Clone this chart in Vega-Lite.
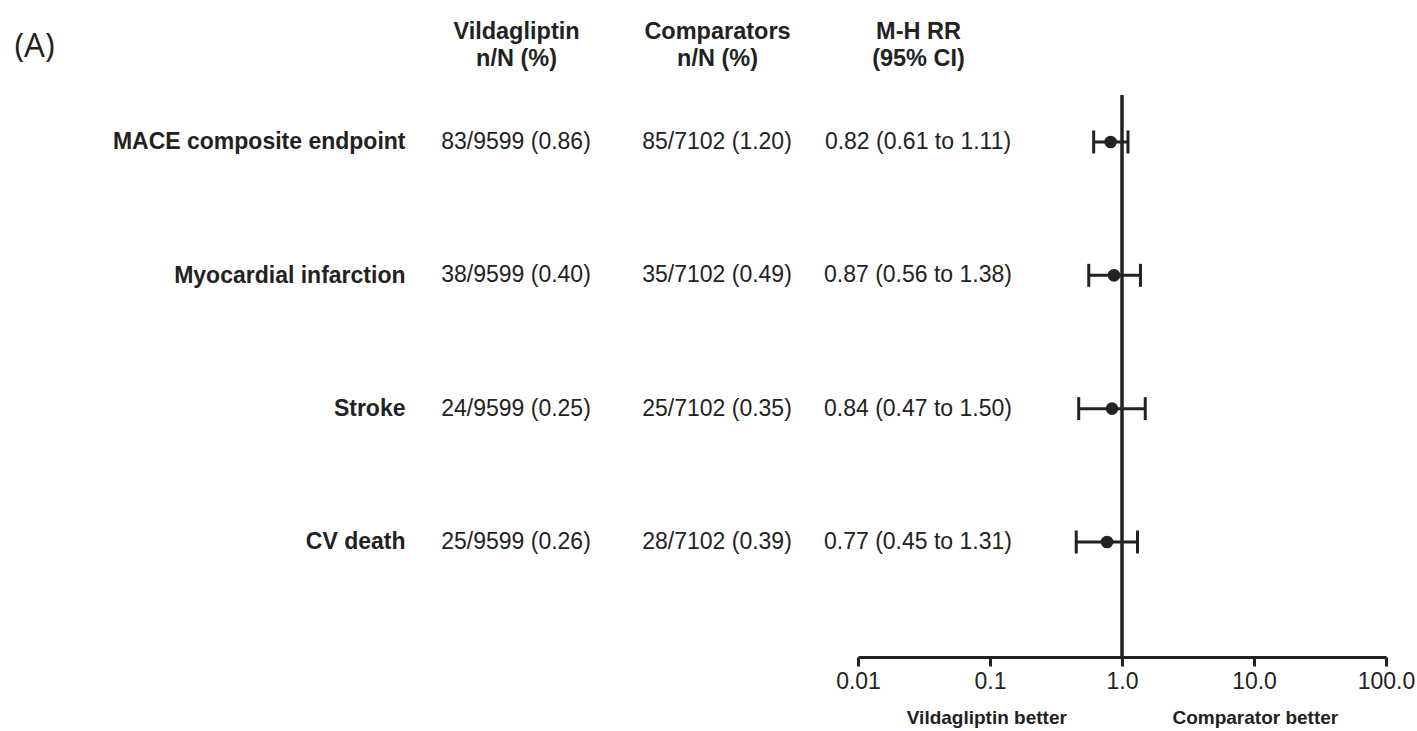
{
  "$schema": "https://vega.github.io/schema/vega-lite/v6.json",
  "width": 997,
  "height": 562,
  "autosize": {"type": "none"},
  "padding": {"left": 420, "top": 95, "right": 0, "bottom": 74},
  "background": "white",
  "title": {"text": "(A)", "anchor": "start", "frame": "bounds", "font": "Open Sans", "fontSize": 33, "fontWeight": "normal", "color": "#222222", "dx": -98, "dy": 49},
  "config": {"view": {"stroke": null}, "font": "Liberation Sans"},
  "data": {"values": [
    {"endpoint": "MACE composite endpoint", "vild": "83/9599 (0.86)", "comp": "85/7102 (1.20)", "rr": "0.82 (0.61 to 1.11)", "est": 0.82, "lo": 0.61, "hi": 1.11},
    {"endpoint": "Myocardial infarction", "vild": "38/9599 (0.40)", "comp": "35/7102 (0.49)", "rr": "0.87 (0.56 to 1.38)", "est": 0.87, "lo": 0.56, "hi": 1.38},
    {"endpoint": "Stroke", "vild": "24/9599 (0.25)", "comp": "25/7102 (0.35)", "rr": "0.84 (0.47 to 1.50)", "est": 0.84, "lo": 0.47, "hi": 1.50},
    {"endpoint": "CV death", "vild": "25/9599 (0.26)", "comp": "28/7102 (0.39)", "rr": "0.77 (0.45 to 1.31)", "est": 0.77, "lo": 0.45, "hi": 1.31}
  ]},
  "resolve": {"scale": {"x": "independent"}, "axis": {"x": "independent"}},
  "layer": [
    {
      "transform": [{"fold": ["vild", "comp", "rr"], "as": ["column", "cell"]}],
      "mark": {"type": "text", "fontSize": 23, "color": "#222222"},
      "encoding": {
        "x": {"field": "column", "type": "nominal",
          "scale": {"type": "point", "domain": ["vild", "comp", "rr"], "range": [96, 498], "padding": 0},
          "axis": {"orient": "top", "title": null, "domain": false, "ticks": false, "tickSize": 0, "grid": false,
            "labelAngle": 0, "labelFontSize": 23.5, "labelFontWeight": "bold", "labelColor": "#222222", "labelPadding": 52, "labelLineHeight": 27,
            "labelExpr": "datum.value == 'vild' ? ['Vildagliptin', 'n/N (%)'] : datum.value == 'comp' ? ['Comparators', 'n/N (%)'] : ['M-H RR', '(95% CI)']"}},
        "y": {"field": "endpoint", "type": "nominal", "sort": null,
          "scale": {"type": "point", "padding": 0.6075, "align": 0.29},
          "axis": {"title": null, "domain": false, "ticks": false, "tickSize": 0, "grid": false, "labelLimit": 0, "labelFontSize": 23, "labelFontWeight": "bold", "labelColor": "#222222", "labelPadding": 15}},
        "text": {"field": "cell", "type": "nominal"}
      }
    },
    {
      "layer": [
        {
          "data": {"values": [{"ref": 1}]},
          "mark": {"type": "rule", "strokeWidth": 3.5, "color": "#222222"},
          "encoding": {
            "x": {"field": "ref", "type": "quantitative",
              "scale": {"type": "log", "domain": [0.01, 100], "range": [438, 966]},
              "axis": {"orient": "bottom", "values": [0.01, 0.1, 1, 10, 100], "grid": false, "labelFlush": false, "labelOverlap": false,
                "labelExpr": "datum.value < 0.05 ? '0.01' : datum.value < 0.5 ? '0.1' : format(datum.value, '.1f')",
                "domainColor": "#222222", "domainWidth": 3, "tickColor": "#222222", "tickWidth": 3, "tickSize": 9,
                "labelFontSize": 23, "labelColor": "#222222", "labelPadding": 4,
                "title": "Vildagliptin better\u00a0\u00a0\u00a0\u00a0\u00a0\u00a0\u00a0\u00a0\u00a0\u00a0\u00a0\u00a0\u00a0\u00a0\u00a0\u00a0\u00a0\u00a0\u00a0 Comparator better",
                "titleFontSize": 19, "titleFontWeight": "bold", "titleColor": "#222222", "titlePadding": 15}}
          }
        },
        {
          "mark": {"type": "rule", "strokeWidth": 3, "color": "#222222"},
          "encoding": {
            "x": {"field": "lo", "type": "quantitative"},
            "x2": {"field": "hi"},
            "y": {"field": "endpoint", "type": "nominal", "sort": null}
          }
        },
        {
          "transform": [{"fold": ["lo", "hi"], "as": ["bound", "ci"]}],
          "mark": {"type": "tick", "size": 23, "thickness": 3, "color": "#222222", "opacity": 1},
          "encoding": {
            "x": {"field": "ci", "type": "quantitative"},
            "y": {"field": "endpoint", "type": "nominal", "sort": null}
          }
        },
        {
          "mark": {"type": "point", "filled": true, "size": 160, "color": "#222222", "opacity": 1},
          "encoding": {
            "x": {"field": "est", "type": "quantitative"},
            "y": {"field": "endpoint", "type": "nominal", "sort": null}
          }
        }
      ]
    }
  ]
}
